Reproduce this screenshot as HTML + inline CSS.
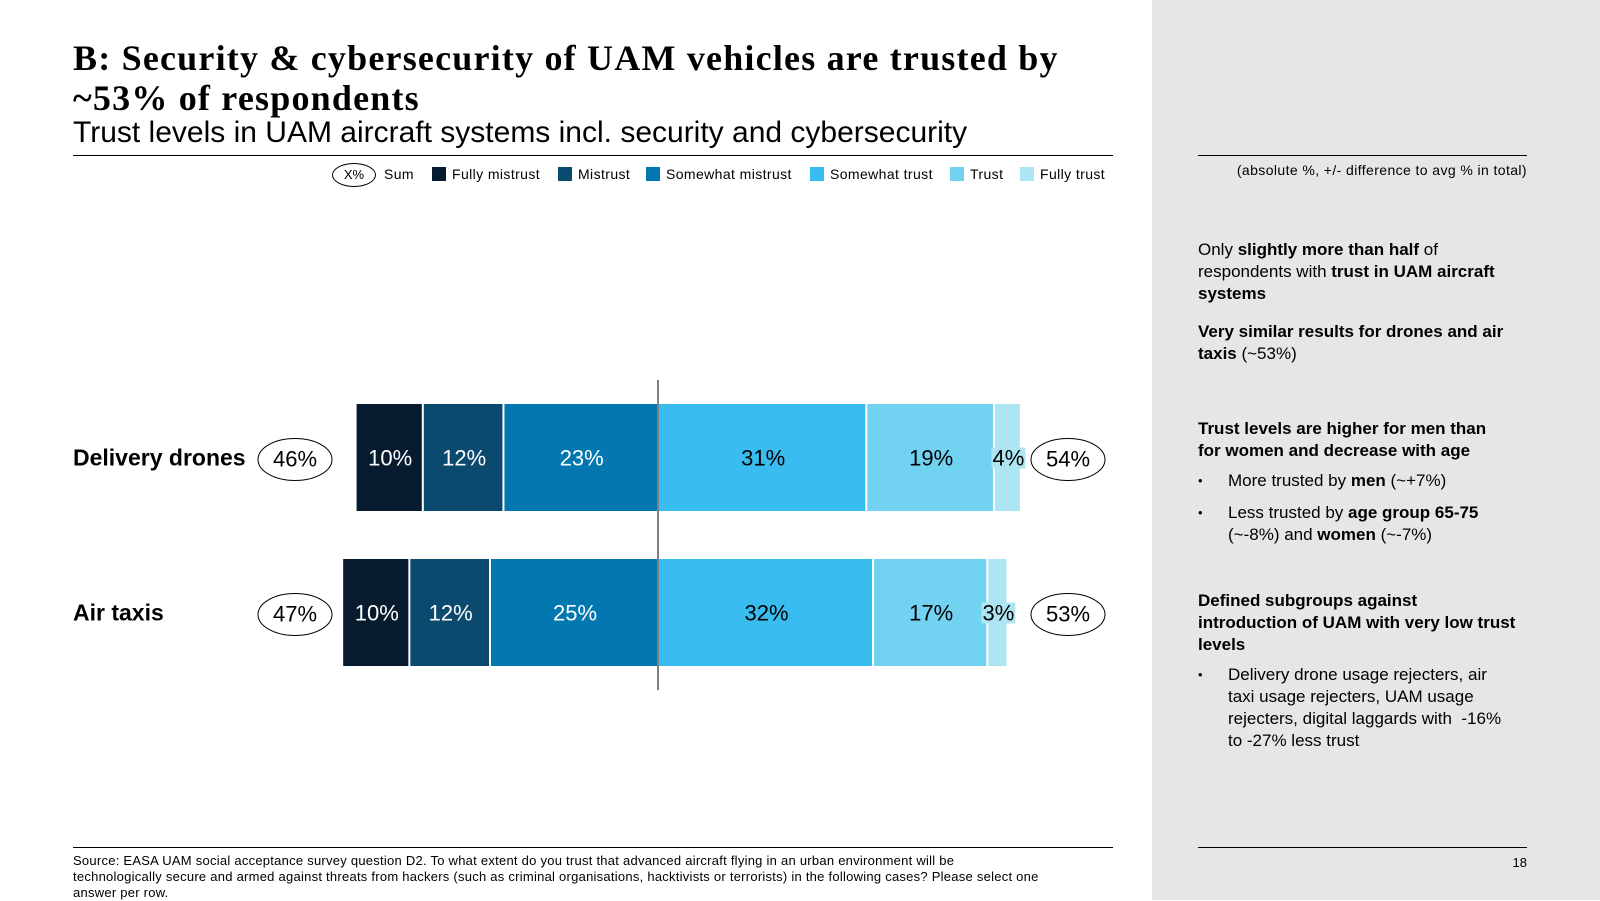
<!DOCTYPE html>
<html><head><meta charset="utf-8"><style>
body{margin:0;width:1600px;height:900px;position:relative;background:#fff;font-family:"Liberation Sans",sans-serif;overflow:hidden}
.a{position:absolute}
#panel{left:1152px;top:0;width:448px;height:900px;background:#e6e6e6}
.rt{left:1198px;width:318px;font-size:17px;line-height:22px;color:#000}
.rt ul{margin:8px 0 0 0;padding-left:30px;list-style:none}
.rt li{position:relative;margin-bottom:10px}
.rt li:before{content:"•";position:absolute;left:-30px;font-size:13px}
.leg{font-size:14px;top:166px;letter-spacing:0.4px}
.sw{width:14px;height:14px;top:167px}
</style></head><body>
<div id="panel" class="a"></div>
<div class="a" style="left:73px;top:38px;font-family:'Liberation Serif',serif;font-weight:bold;font-size:36px;letter-spacing:1.2px;line-height:40px;width:1080px">B: Security &amp; cybersecurity of UAM vehicles are trusted by ~53% of respondents</div>
<div class="a" style="left:73px;top:116px;font-size:30px">Trust levels in UAM aircraft systems incl. security and cybersecurity</div>
<div class="a" style="left:73px;top:155px;width:1040px;height:1px;background:#000"></div>
<div class="a" style="left:332px;top:163px;width:42px;height:22px;border:1px solid #000;border-radius:50%;font-size:13px;text-align:center;line-height:22px">X%</div>
<div class="a leg" style="left:384px">Sum</div>
<svg class="a" id="chart" style="left:0;top:0" width="1152" height="900"></svg>
<div class="a" style="left:73px;top:847px;width:1040px;height:1px;background:#000"></div>
<div class="a" style="left:73px;top:853px;width:1040px;font-size:13px;line-height:16px;letter-spacing:0.25px;white-space:nowrap">Source: EASA UAM social acceptance survey question  D2. To what extent do you trust that advanced aircraft flying in an urban environment will be<br>technologically secure and armed against threats from hackers (such as criminal organisations, hacktivists or terrorists) in the following cases? Please select one<br>answer per row.</div>
<div class="a" style="left:1198px;top:155px;width:329px;height:1px;background:#000"></div>
<div class="a" style="left:1198px;top:162px;width:329px;text-align:right;font-size:14px;letter-spacing:0.4px">(absolute %, +/- difference to avg % in total)</div>
<div class="a rt" style="top:239px">Only <b>slightly more than half</b> of respondents with <b>trust in UAM aircraft systems</b></div>
<div class="a rt" style="top:321px"><b>Very similar results for drones and air taxis</b> (~53%)</div>
<div class="a rt" style="top:418px;width:306px"><b>Trust levels are higher for men than for women and decrease with age</b>
<ul><li>More trusted by <b>men</b> (~+7%)</li><li>Less trusted by <b>age group 65-75</b> (~-8%) and <b>women</b> (~-7%)</li></ul></div>
<div class="a rt" style="top:590px"><b>Defined subgroups against introduction of UAM with very low trust levels</b>
<ul><li>Delivery drone usage rejecters, air taxi usage rejecters, UAM usage rejecters, digital laggards with&nbsp;&nbsp;-16% to -27% less trust</li></ul></div>
<div class="a" style="left:1198px;top:847px;width:329px;height:1px;background:#000"></div>
<div class="a" style="left:1480px;top:855px;width:47px;text-align:right;font-size:13px">18</div>
<script>
const categories=["Delivery drones","Air taxis"];
const segNames=["Fully mistrust","Mistrust","Somewhat mistrust","Somewhat trust","Trust","Fully trust"];
const fullyMistrust=[10,10];
const mistrust=[12,12];
const somewhatMistrust=[23,25];
const somewhatTrust=[31,32];
const trust=[19,17];
const fullyTrust=[4,3];
const sumNeg=[46,47];
const sumPos=[54,53];
const colors=["#061c2e","#0b4a6f","#0277b0","#39bcf0","#72d2f2","#ade6f2"];
const textCol=["#fff","#fff","#fff","#000","#000","#000"];
const NS="http://www.w3.org/2000/svg";
const svg=document.getElementById('chart');
const cx=659,pxPer=6.72;
const xs=v=>v*pxPer;
const rowTop=[404,559],barH=107;
function el(t,a){const e=document.createElementNS(NS,t);for(const k in a)e.setAttribute(k,a[k]);svg.appendChild(e);return e;}
const legX=[432,558,646,810,950,1020];
segNames.forEach((n,i)=>{
 const s=document.createElement('div');s.className='a sw';s.style.left=legX[i]+'px';s.style.background=colors[i];
 
 
 document.body.appendChild(s);
 const t=document.createElement('div');t.className='a leg';t.style.left=(legX[i]+20)+'px';t.textContent=n;
 
 
 document.body.appendChild(t);
});
const series=[fullyMistrust,mistrust,somewhatMistrust,somewhatTrust,trust,fullyTrust];
categories.forEach((c,r)=>{
 const y=rowTop[r],mid=y+barH/2;
 const neg=series[0][r]+series[1][r]+series[2][r];
 let x=cx-xs(neg);
 series.forEach((s,i)=>{
  const w=xs(s[r]);
  const rc=el('rect',{x:x,y:y,width:Math.max(w-2,1),height:barH,fill:colors[i]});
  
  
  const t=el('text',{x:x+w/2,y:mid+8,'text-anchor':'middle','font-size':22,fill:textCol[i]});t.textContent=s[r]+'%';
  
  
  if(i==5){const bb=t.getBBox();const bg=el('rect',{x:bb.x-1,y:bb.y+2,width:bb.width+2,height:bb.height-4,fill:colors[i]});svg.insertBefore(bg,t);}
  x+=w;
 });
 const lab=el('text',{x:73,y:mid+8,'font-size':23,'font-weight':'bold'});lab.textContent=c;
 
 
 [[295,sumNeg[r]],[1068,sumPos[r]]].forEach(([ex,v],k)=>{
  const e=el('ellipse',{cx:ex,cy:mid+2,rx:37,ry:21,fill:'#fff',stroke:'#000','stroke-width':1});
  
  
  const t=el('text',{x:ex,y:mid+9,'text-anchor':'middle','font-size':22});t.textContent=v+'%';
  
  
 });
});
const ax=el('line',{x1:cx-1,x2:cx-1,y1:380,y2:690,stroke:'#000','stroke-width':1});


</script>
</body></html>
